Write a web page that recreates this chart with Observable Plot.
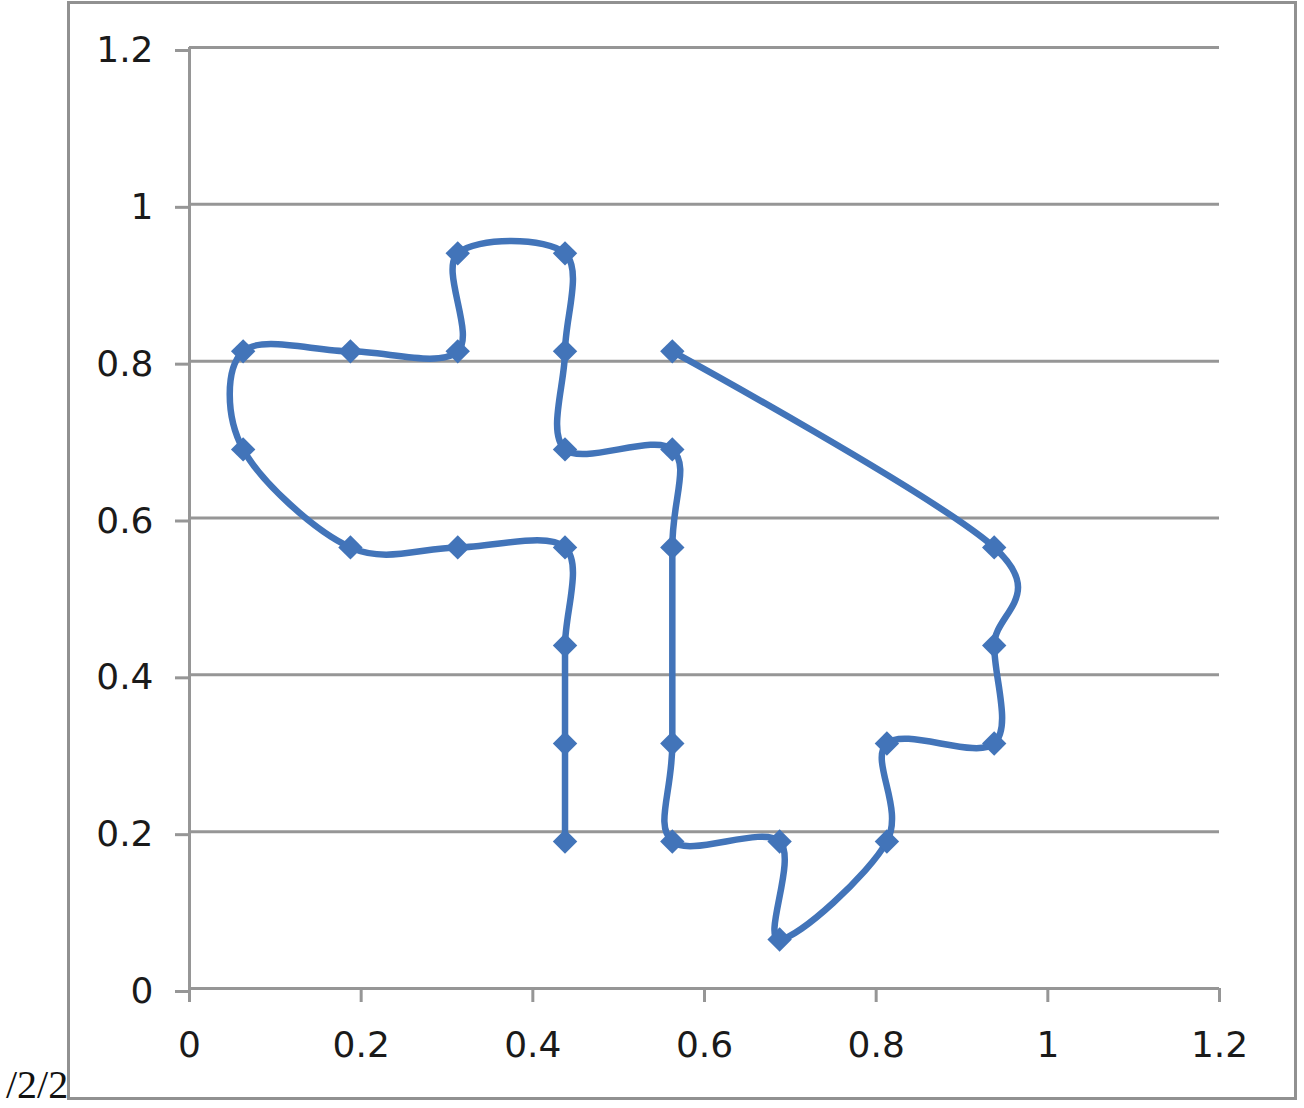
<!DOCTYPE html>
<html>
<head>
<meta charset="utf-8">
<script src="https://cdn.jsdelivr.net/npm/d3@7"></script>
<script src="https://cdn.jsdelivr.net/npm/@observablehq/plot@0.6"></script>
<style>
  html, body { margin: 0; padding: 0; background: #fff; }
  #wrap { position: relative; width: 1304px; height: 1108px; overflow: hidden; }
  #frame { position: absolute; left: 67px; top: 1px; width: 1230px; height: 1099px;
           border: 3px solid #919191; box-sizing: border-box; }
  #chart { position: absolute; left: 0; top: 0; }
  #note { position: absolute; left: 6px; top: 1063px; font-family: "Liberation Serif", "DejaVu Serif", serif;
          font-size: 40px; line-height: 44px; color: #111; }
</style>
</head>
<body>
<div id="wrap">
  <div id="frame"></div>
  <div id="chart"></div>
  <div id="note">/2/2</div>
</div>
<script>
// Series (traced path order)
const xs = [0.4375, 0.4375, 0.4375, 0.4375, 0.3125, 0.1875, 0.0625, 0.0625, 0.1875, 0.3125, 0.3125, 0.4375, 0.4375, 0.4375, 0.5625, 0.5625, 0.5625, 0.5625, 0.6875, 0.6875, 0.8125, 0.8125, 0.9375, 0.9375, 0.9375, 0.5625];
const ys = [0.1875, 0.3125, 0.4375, 0.5625, 0.5625, 0.5625, 0.6875, 0.8125, 0.8125, 0.8125, 0.9375, 0.9375, 0.8125, 0.6875, 0.6875, 0.5625, 0.3125, 0.1875, 0.1875, 0.0625, 0.1875, 0.3125, 0.3125, 0.4375, 0.5625, 0.8125];
const xTicks = [0, 0.2, 0.4, 0.6, 0.8, 1, 1.2];
const yTicks = [0, 0.2, 0.4, 0.6, 0.8, 1, 1.2];

const data = xs.map((x, i) => ({x, y: ys[i]}));
const gray = "#969696";
const blue = "#4274b9";

const chart = Plot.plot({
  width: 1304,
  height: 1108,
  marginLeft: 189,
  marginRight: 85,
  marginTop: 47,
  marginBottom: 120,
  style: {fontFamily: "'DejaVu Sans', Verdana, sans-serif", background: "transparent", color: "#1a1a1a"},
  x: {domain: [0, 1.2], label: null},
  y: {domain: [0, 1.2], label: null},
  marks: [
    Plot.ruleY(yTicks, {stroke: gray, strokeWidth: 3}),
    Plot.ruleX([0], {stroke: gray, strokeWidth: 3}),
    Plot.axisX(xTicks, {label: null, tickSize: 14, tickPadding: 29, stroke: gray, strokeWidth: 3, fontSize: 36, fill: "#1a1a1a", tickFormat: d => String(d)}),
    Plot.axisY(yTicks, {label: null, tickSize: 14, tickPadding: 22, stroke: gray, strokeWidth: 3, fontSize: 36, fill: "#1a1a1a", tickFormat: d => String(d), dy: 3}),
    Plot.line(data, {x: "x", y: "y", stroke: blue, strokeWidth: 6.5, curve: "cardinal", tension: 0}),
    Plot.dot(data, {x: "x", y: "y", symbol: "diamond2", r: 11, fill: blue, stroke: "none"})
  ]
});
document.getElementById("chart").appendChild(chart);
</script>
</body>
</html>
